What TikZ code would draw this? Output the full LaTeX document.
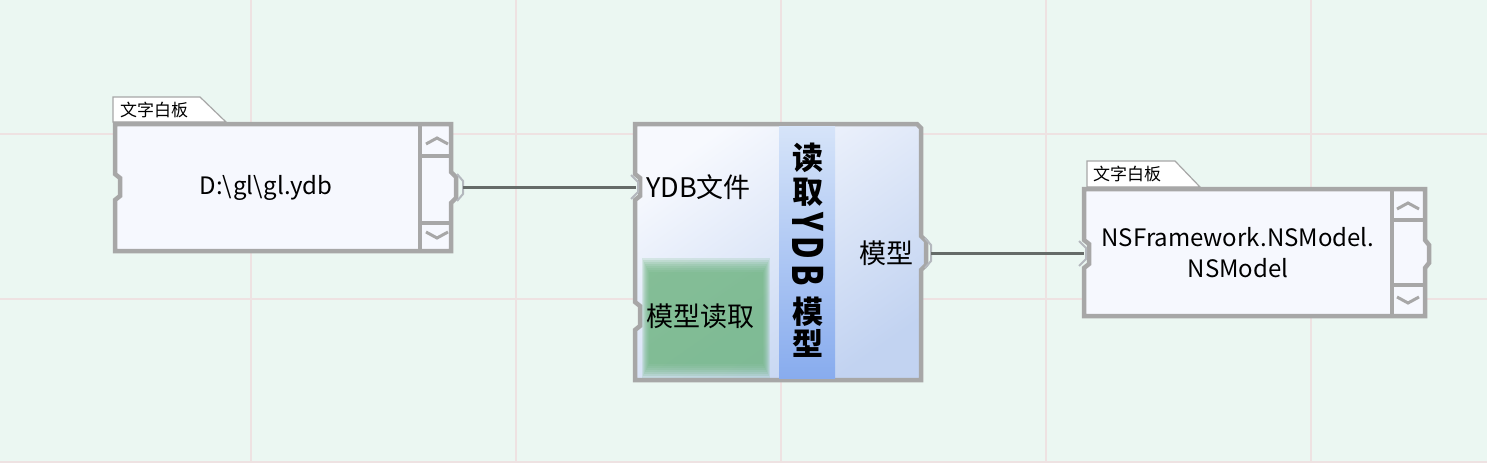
\documentclass[tikz,border=0pt]{standalone}
\usepackage{fontspec}
\setmainfont{Noto Sans CJK SC}
\usetikzlibrary{shapes}
\definecolor{bgmint}{HTML}{EBF7F2}
\definecolor{gridpink}{HTML}{EEE2E2}
\definecolor{frame}{HTML}{A7A7A7}
\definecolor{boardfill}{HTML}{F6F8FE}
\definecolor{linkgray}{HTML}{656B68}
\definecolor{portgray}{HTML}{B4B8BE}
\definecolor{blocklight}{HTML}{F7F9FE}
\definecolor{blockblue}{HTML}{C2D3F1}
\definecolor{titletop}{HTML}{D6E4F9}
\definecolor{titlebottom}{HTML}{88ACEE}
\definecolor{greenpad}{HTML}{6DB47F}
\newcommand{\fsz}[2]{\fontsize{#1}{#2}\selectfont}

\begin{document}
\begin{tikzpicture}[x=1pt,y=-1pt,line join=miter]
  \tikzstyle{frame line}=[draw=frame,line width=4.5pt]
  \tikzstyle{tab}=[fill=white,draw=frame,line width=1.2pt]
  \tikzstyle{tab label}=[anchor=west,inner sep=0pt,font=\fsz{17}{20}]
  \tikzstyle{board text}=[font=\fsz{24}{31},align=center,inner sep=0pt]
  \tikzstyle{port label}=[font=\fsz{27}{30},inner sep=0pt]
  \tikzstyle{title char}=[font=\fsz{31}{34}\bfseries,inner sep=0pt]
  \tikzstyle{arrowmark}=[draw=frame,line width=3pt]
  \tikzstyle{chevron}=[draw=portgray,line width=2pt]
  \tikzstyle{link}=[draw=linkgray,line width=3pt]

  \fill[bgmint] (0,0) rectangle (1487,463);
  \useasboundingbox (0,0) rectangle (1487,463);
  \foreach \x in {251,516,781,1046,1311}
    \draw[gridpink,line width=2pt] (\x,0) -- (\x,463);
  \foreach \y in {134,299,462}
    \draw[gridpink,line width=2pt] (0,\y) -- (1487,\y);

  % left text board
  \draw[tab] (113,97) -- (200,97) -- (226,122) -- (113,122) -- cycle;
  \node[tab label] (t1) at (120,110) {文字白板};
  \path[fill=boardfill,frame line] (115,124) -- (451,124) -- (451,172) -- (456,177)
    -- (456,198) -- (451,203) -- (451,251) -- (115,251) -- (115,200) -- (120,196)
    -- (120,178) -- (115,174) -- cycle;
  \draw[frame line] (420,124) -- (420,251) (420,156) -- (451,156) (420,223) -- (451,223);
  \draw[arrowmark] (426,144) -- (437,138) -- (448,144);
  \draw[arrowmark] (426,232) -- (437,238) -- (448,232);
  \node[board text] (b1) at (266,188) {D:\textbackslash gl\textbackslash gl.ydb};
  \draw[chevron] (457,174) -- (463,181) -- (463,194) -- (457,201);
  \coordinate (b1 out) at (463,187);

  % reading block
  \path[frame line,top color=blocklight,bottom color=blockblue,shading angle=35]
    (635,124) -- (917,124) -- (921,128) -- (921,236) -- (926,241) -- (926,265)
    -- (921,270) -- (921,380) -- (635,380) -- (635,330) -- (640,326) -- (640,306)
    -- (635,302) -- (635,200) -- (640,196) -- (640,178) -- (635,174) -- cycle;
  \foreach \d in {0,...,7}
    \fill[greenpad,opacity=0.18] (642+\d,258+2*\d) rectangle (770-\d,378-2*\d);
  \shade[top color=titletop,bottom color=titlebottom] (779,126) rectangle (835,378);
  \foreach \c/\y in {读/158,取/192,模/312,型/343}
    \node[title char] (c\y) at (808,\y) {\c};
  \foreach \c/\y in {Y/222,D/248,B/275}
    \node[title char,rotate=-90] (c\y) at (808,\y) {\scalebox{1}[1.35]{\c}};
  \node[port label,anchor=west] (p1) at (646,187) {YDB文件};
  \node[port label,anchor=west] (p2) at (646,316) {模型读取};
  \node[port label,anchor=east] (p3) at (914,253) {模型};
  \draw[chevron] (631,175) -- (638,182) -- (638,192) -- (631,199);
  \draw[chevron] (925,238) -- (931,245) -- (931,261) -- (925,268);
  \coordinate (m1 in) at (636,187);
  \coordinate (m1 out) at (931,253);

  % right text board
  \draw[tab] (1087,161) -- (1175,161) -- (1200,187) -- (1087,187) -- cycle;
  \node[tab label] (t2) at (1093,174) {文字白板};
  \path[fill=boardfill,frame line] (1084,189) -- (1425,189) -- (1425,240) -- (1429,245)
    -- (1429,263) -- (1425,268) -- (1425,316) -- (1084,316) -- (1084,268) -- (1089,264)
    -- (1089,244) -- (1084,240) -- cycle;
  \draw[frame line] (1392,189) -- (1392,316) (1392,220) -- (1425,220) (1392,285) -- (1425,285);
  \draw[arrowmark] (1397,209) -- (1408,203) -- (1419,209);
  \draw[arrowmark] (1397,297) -- (1408,303) -- (1419,297);
  \node[board text] (b2) at (1238,253) {NSFramework.NSModel.\\NSModel};
  \draw[chevron] (1079,241) -- (1086,248) -- (1086,259) -- (1079,266);
  \coordinate (b2 in) at (1084,253);

  \draw[link] (b1 out) -- (m1 in);
  \draw[link] (m1 out) -- (b2 in);
\end{tikzpicture}
\end{document}
